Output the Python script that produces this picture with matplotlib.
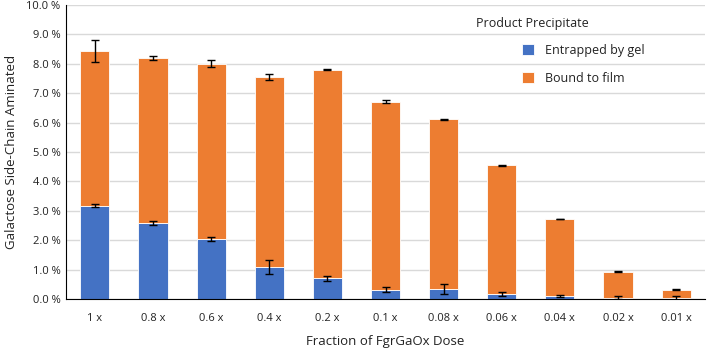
import numpy as np
import matplotlib
matplotlib.use('Agg')
import matplotlib.pyplot as plt

# Data (percent)
doses = ['1 x', '0.8 x', '0.6 x', '0.4 x', '0.2 x', '0.1 x', '0.08 x', '0.06 x', '0.04 x', '0.02 x', '0.01 x']
gel = [3.17, 2.58, 2.03, 1.10, 0.70, 0.32, 0.33, 0.18, 0.10, 0.05, 0.04]
gel_err = [0.05, 0.07, 0.07, 0.24, 0.09, 0.08, 0.17, 0.07, 0.03, 0.04, 0.06]
total = [8.44, 8.18, 8.00, 7.55, 7.80, 6.71, 6.11, 4.55, 2.72, 0.93, 0.32]
total_err = [0.37, 0.07, 0.12, 0.10, 0.03, 0.05, 0.02, 0.01, 0.01, 0.02, 0.02]

film = [t - g for t, g in zip(total, gel)]

plt.rcParams['font.family'] = ['Open Sans', 'DejaVu Sans']

fig = plt.figure(figsize=(7.08, 3.49), dpi=100)
ax = fig.add_axes([0.093, 0.143, 0.903, 0.843])

x = np.arange(len(doses))
blue = '#4472C4'
orange = '#ED7D31'

ax.bar(x, gel, width=0.5, color=blue, edgecolor='white', linewidth=0.6,
       label='Entrapped by gel', zorder=2)
ax.bar(x, film, width=0.5, bottom=gel, color=orange, edgecolor='white',
       linewidth=0.6, label='Bound to film', zorder=2)

ax.errorbar(x, gel, yerr=gel_err, fmt='none', ecolor='black', elinewidth=1,
            capsize=3, capthick=1, zorder=3)
ax.errorbar(x, total, yerr=total_err, fmt='none', ecolor='black', elinewidth=1,
            capsize=3, capthick=1, zorder=3)

ax.set_xlim(-0.5, len(doses) - 0.5)
ax.set_ylim(0, 10)
ax.set_yticks(np.arange(0, 11, 1))
ax.set_yticklabels(['%.1f %%' % v for v in range(11)])
ax.set_xticks(x)
ax.set_xticklabels(doses)
ax.tick_params(axis='both', length=0, labelsize=8, colors='#222222')
ax.tick_params(axis='x', pad=10)
ax.tick_params(axis='y', pad=4)

ax.yaxis.grid(True, color='#D9D9D9', linewidth=1, zorder=0)
ax.set_axisbelow(True)
for s in ['top', 'right']:
    ax.spines[s].set_visible(False)
ax.spines['left'].set_color('black')
ax.spines['bottom'].set_color('black')

ax.set_xlabel('Fraction of FgrGaOx Dose', fontsize=9.5, labelpad=8, color='#222222')
ax.set_ylabel('Galactose Side-Chain Aminated', fontsize=9.5, labelpad=6, color='#222222')

# legend title placed on its own, entries below and to the right
fig.text(532 / 708, 1 - 23 / 349, 'Product Precipitate', ha='center', va='center',
         fontsize=9, color='#222222')
fig.legend(*ax.get_legend_handles_labels(), loc='upper left',
           bbox_to_anchor=(522 / 708, 1 - 44 / 349), frameon=False, fontsize=9,
           handlelength=0.95, handleheight=0.95, handletextpad=0.9,
           labelspacing=1.2, borderaxespad=0, borderpad=0, labelcolor='#222222')

fig.savefig('out.png', dpi=100)
